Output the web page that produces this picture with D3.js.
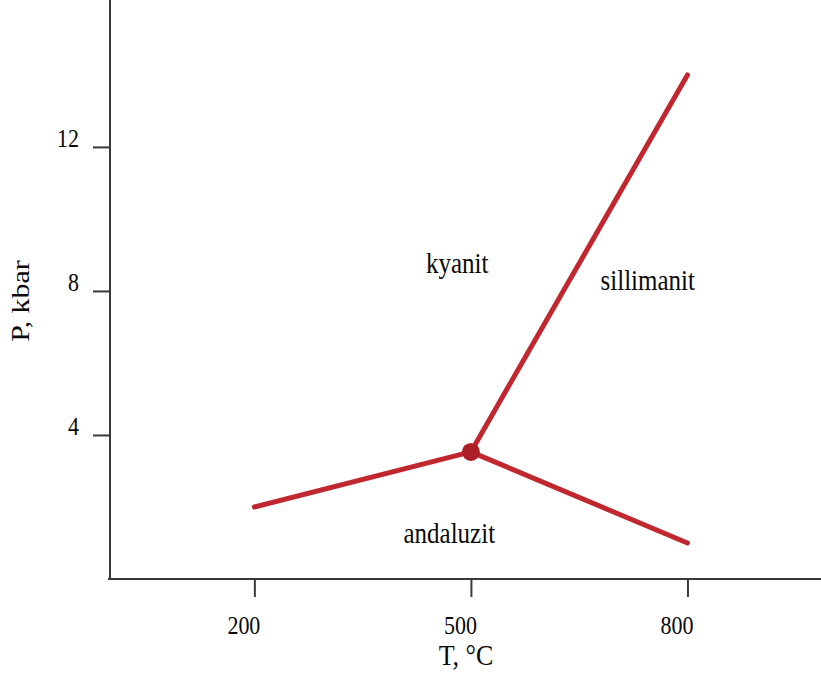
<!DOCTYPE html>
<html>
<head>
<meta charset="utf-8">
<script src="https://cdn.jsdelivr.net/npm/d3@7"></script>
<style>
  body { margin: 0; background: #fff; }
  svg { display: block; font-family: "Liberation Serif", "Times New Roman", serif; }
</style>
</head>
<body>
<svg id="chart" width="821" height="674"></svg>
<script>
// phase boundaries of Al2SiO5 (T in °C, P in kbar)
const boundaries = [
  { name: "ky-and", points: [[200, 2.0], [500, 3.53]] },
  { name: "ky-sil", points: [[500, 3.53], [800, 14.0]] },
  { name: "and-sil", points: [[500, 3.53], [800, 1.0]] }
];
const triplePoint = [500, 3.53];
const phaseLabels = [
  { text: "kyanit", T: 481, P: 8.5 },
  { text: "sillimanit", T: 745, P: 8.03 },
  { text: "andaluzit", T: 470, P: 1.0 }
];
const xTicks = [200, 500, 800];
const yTicks = [4, 8, 12];

const width = 821, height = 674;
const stretch = 1.15; // text in the original is a bit taller than wide
const svg = d3.select("#chart");

const x = d3.scaleLinear().domain([0, 985]).range([110, 821]);
const y = d3.scaleLinear().domain([0, 16.08]).range([579, 0]);

const red = "#c1272f";
const ink = "#0a0a0a";

// x axis
const xAxis = svg.append("g")
    .attr("transform", `translate(0,${y(0)})`)
    .call(d3.axisBottom(x).tickValues(xTicks).tickSize(18).tickSizeOuter(0).tickPadding(14));
xAxis.select(".domain").attr("stroke", "#3a3a3a").attr("stroke-width", 2)
    .attr("d", `M${x(0) - 2},0H${width}`);
xAxis.selectAll(".tick line").attr("stroke", "#3a3a3a").attr("stroke-width", 2);
xAxis.selectAll(".tick text")
    .attr("font-family", "Liberation Serif, serif")
    .attr("font-size", 22)
    .attr("fill", ink)
    .attr("dx", -11)
    .attr("transform", `scale(1,${stretch})`);

// y axis
const yAxis = svg.append("g")
    .attr("transform", `translate(${x(0)},0)`)
    .call(d3.axisLeft(y).tickValues(yTicks).tickSize(17).tickSizeOuter(0).tickPadding(14));
yAxis.select(".domain").attr("stroke", "#3a3a3a").attr("stroke-width", 2)
    .attr("d", `M0,0V${y(0) + 1}`);
yAxis.selectAll(".tick line").attr("stroke", "#3a3a3a").attr("stroke-width", 2);
yAxis.selectAll(".tick text")
    .attr("font-family", "Liberation Serif, serif")
    .attr("font-size", 22)
    .attr("fill", ink)
    .attr("dy", "-0.02em")
    .attr("transform", `scale(1,${stretch})`);

// axis titles
svg.append("text")
    .attr("transform", `translate(466,665) scale(1,${stretch})`)
    .attr("text-anchor", "middle")
    .attr("font-size", 26)
    .attr("fill", ink)
    .text("T, °C");

svg.append("text")
    .attr("transform", `translate(29,301) scale(1,${stretch}) rotate(-90)`)
    .attr("text-anchor", "middle")
    .attr("font-size", 26)
    .attr("fill", ink)
    .text("P, kbar");

// boundaries
const line = d3.line().x(d => x(d[0])).y(d => y(d[1]));
svg.append("g")
  .selectAll("path")
  .data(boundaries)
  .join("path")
    .attr("d", d => line(d.points))
    .attr("fill", "none")
    .attr("stroke", red)
    .attr("stroke-width", 5)
    .attr("stroke-linecap", "round");

// triple point
svg.append("circle")
    .attr("cx", x(triplePoint[0]))
    .attr("cy", y(triplePoint[1]))
    .attr("r", 9)
    .attr("fill", "#ab1f28");

// phase names
svg.append("g")
  .selectAll("text")
  .data(phaseLabels)
  .join("text")
    .attr("transform", d => `translate(${x(d.T)},${y(d.P)}) scale(1,${stretch})`)
    .attr("text-anchor", "middle")
    .attr("font-size", 25)
    .attr("fill", ink)
    .text(d => d.text);
</script>
</body>
</html>
